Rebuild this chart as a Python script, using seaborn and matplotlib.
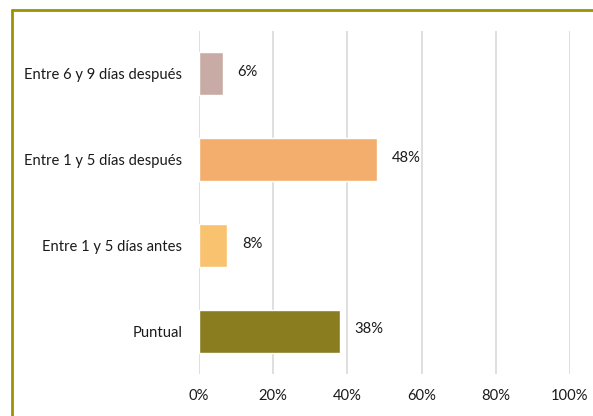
import pandas as pd
import matplotlib.pyplot as plt
import seaborn as sns
from matplotlib.lines import Line2D

# Datos
categorias = ['Entre 6 y 9 días después', 'Entre 1 y 5 días después', 'Entre 1 y 5 días antes', 'Puntual']
valores = [6.4, 48.1, 7.6, 37.9]
etiquetas = ['6%', '48%', '8%', '38%']
colores = ['#C9ABA5', '#F3AD6C', '#F8C26E', '#8A7D20']
ticks = [0, 20, 40, 60, 80, 100]
tick_labels = ['0%', '20%', '40%', '60%', '80%', '100%']

df = pd.DataFrame({'Categoria': categorias, 'Valor': valores})

sns.set_theme(style='white')
plt.rcParams['font.family'] = ['Lato', 'DejaVu Sans']

fig = plt.figure(figsize=(5.93, 4.16), dpi=100)
ax = fig.add_axes([199 / 593, 1 - 374 / 416, (570 - 199) / 593, (374 - 31) / 416])

sns.barplot(data=df, x='Valor', y='Categoria', hue='Categoria', palette=colores,
            legend=False, width=0.5, ax=ax, saturation=1)

ax.set_xlim(0, 100)
ax.set_xticks(ticks)
ax.set_xticklabels(tick_labels)
ax.set_xlabel('')
ax.set_ylabel('')
ax.grid(axis='x', color='#D9D9D9', linewidth=1.2)
ax.set_axisbelow(True)
for s in ax.spines.values():
    s.set_visible(False)
ax.tick_params(axis='both', length=0, labelsize=10.6, colors='#1a1a1a')
ax.tick_params(axis='x', pad=11)
ax.tick_params(axis='y', pad=12)

# Etiquetas de valores
for i, (v, txt) in enumerate(zip(valores, etiquetas)):
    ax.text(v + 4, i - 0.02, txt, va='center', ha='left', fontsize=10.6, color='#1a1a1a')

# Marco
fig.add_artist(Line2D([12 / 593, 12 / 593], [1 - 10 / 416, 0], color='#9A9400', linewidth=2))
fig.add_artist(Line2D([12 / 593, 1], [1 - 10 / 416, 1 - 10 / 416], color='#9A9400', linewidth=2))

plt.savefig('out.png', dpi=100)
